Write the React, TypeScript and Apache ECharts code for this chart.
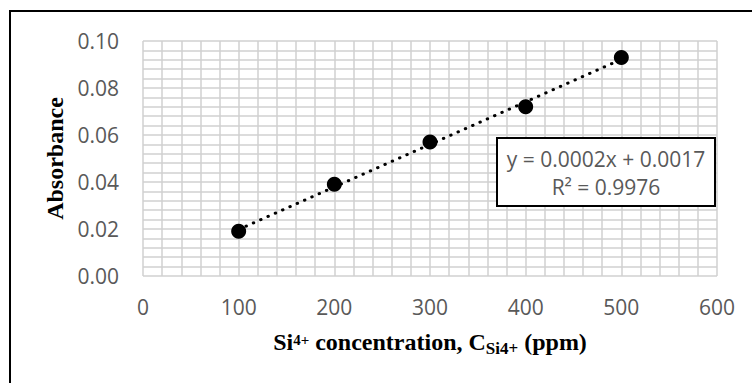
import React, { useEffect, useRef } from "react";
import * as echarts from "echarts";

const concentrations = [100, 200, 300, 400, 500];
const absorbances = [0.019, 0.039, 0.057, 0.072, 0.093];
const equationLines = ["y = 0.0002x + 0.0017", "R² = 0.9976"];
const yAxisTitle = "Absorbance";

function fitLine(xs: number[], ys: number[]) {
  const n = xs.length;
  const mx = xs.reduce((a, b) => a + b, 0) / n;
  const my = ys.reduce((a, b) => a + b, 0) / n;
  let sxy = 0;
  let sxx = 0;
  for (let i = 0; i < n; i++) {
    sxy += (xs[i] - mx) * (ys[i] - my);
    sxx += (xs[i] - mx) * (xs[i] - mx);
  }
  const slope = sxy / sxx;
  return { slope, intercept: my - slope * mx };
}

const GRID_COLOR = "#d0d0d0";
const LABEL_FONT = "'Open Sans', sans-serif";
const TITLE_FONT = "'Liberation Serif', 'Times New Roman', serif";

export default function App() {
  const ref = useRef<HTMLDivElement>(null);
  useEffect(() => {
    if (!ref.current) return;
    const chart = echarts.init(ref.current, undefined, { renderer: "svg" });
    const fit = fitLine(concentrations, absorbances);
    const xMin = Math.min(...concentrations);
    const xMax = Math.max(...concentrations);
    const trend = [
      [xMin, fit.slope * xMin + fit.intercept],
      [xMax, fit.slope * xMax + fit.intercept],
    ];
    const gridLine = { show: true, lineStyle: { color: GRID_COLOR, width: 1.5 } };
    chart.setOption({
      animation: false,
      backgroundColor: "#ffffff",
      grid: { left: 143, top: 41, width: 574, height: 235, containLabel: false },
      xAxis: {
        type: "value",
        min: 0,
        max: 600,
        interval: 100,
        axisLine: { show: false },
        axisTick: { show: false },
        splitLine: gridLine,
        minorTick: { show: false, splitNumber: 5 },
        minorSplitLine: gridLine,
        axisLabel: {
          margin: 20,
          fontFamily: LABEL_FONT,
          fontSize: 21,
          color: "#595959",
        },
        name: "{m|Si}{sup|4+}{m| concentration, C}{sub|Si4+}{m| (ppm)}",
        nameLocation: "middle",
        nameGap: 51,
        nameTextStyle: {
          rich: {
            m: {
              fontFamily: TITLE_FONT,
              fontWeight: "bold",
              fontSize: 24,
              lineHeight: 30,
              color: "#000",
            },
            sup: {
              fontFamily: TITLE_FONT,
              fontWeight: "bold",
              fontSize: 15,
              verticalAlign: "top",
              padding: [5, 0, 0, 0],
              color: "#000",
            },
            sub: {
              fontFamily: TITLE_FONT,
              fontWeight: "bold",
              fontSize: 17,
              lineHeight: 17,
              verticalAlign: "bottom",
              color: "#000",
            },
          },
        },
      },
      yAxis: {
        type: "value",
        min: 0,
        max: 0.1,
        interval: 0.02,
        axisLine: { show: false },
        axisTick: { show: false },
        splitLine: gridLine,
        minorTick: { show: false, splitNumber: 5 },
        minorSplitLine: gridLine,
        axisLabel: {
          margin: 24,
          fontFamily: LABEL_FONT,
          fontSize: 21,
          color: "#595959",
          formatter: (v: number) => v.toFixed(2),
        },
        name: yAxisTitle,
        nameLocation: "middle",
        nameGap: 75,
        nameTextStyle: {
          fontFamily: TITLE_FONT,
          fontWeight: "bold",
          fontSize: 24,
          lineHeight: 24,
          color: "#000",
        },
      },
      series: [
        {
          type: "line",
          data: trend,
          symbol: "none",
          z: 2,
          lineStyle: { color: "#000", width: 3, type: [0.5, 7.5], cap: "round" },
        },
        {
          type: "scatter",
          data: concentrations.map((x, i) => [x, absorbances[i]]),
          symbol: "circle",
          symbolSize: 15,
          itemStyle: { color: "#000", opacity: 1 },
          z: 3,
        },
      ],
      graphic: [
        {
          type: "line",
          z: 100,
          shape: { x1: 9, y1: 11, x2: 752, y2: 11 },
          style: { stroke: "#000", lineWidth: 2 },
        },
        {
          type: "line",
          z: 100,
          shape: { x1: 10, y1: 10, x2: 10, y2: 383 },
          style: { stroke: "#000", lineWidth: 2 },
        },
        {
          type: "rect",
          z: 100,
          x: 497,
          y: 138,
          shape: { x: 0, y: 0, width: 218, height: 68 },
          style: { fill: "#ffffff", stroke: "#000", lineWidth: 2 },
        },
        {
          type: "text",
          z: 101,
          x: 606,
          y: 159,
          style: {
            text: equationLines[0],
            textAlign: "center",
            textVerticalAlign: "middle",
            fontFamily: LABEL_FONT,
            fontSize: 21,
            fill: "#595959",
          },
        },
        {
          type: "text",
          z: 101,
          x: 606,
          y: 187,
          style: {
            text: equationLines[1],
            textAlign: "center",
            textVerticalAlign: "middle",
            fontFamily: LABEL_FONT,
            fontSize: 21,
            fill: "#595959",
          },
        },
      ],
    });
    return () => chart.dispose();
  }, []);
  return (
    <div
      ref={ref}
      style={{ position: "absolute", left: 0, top: 0, width: 752, height: 383, background: "#fff" }}
    />
  );
}
